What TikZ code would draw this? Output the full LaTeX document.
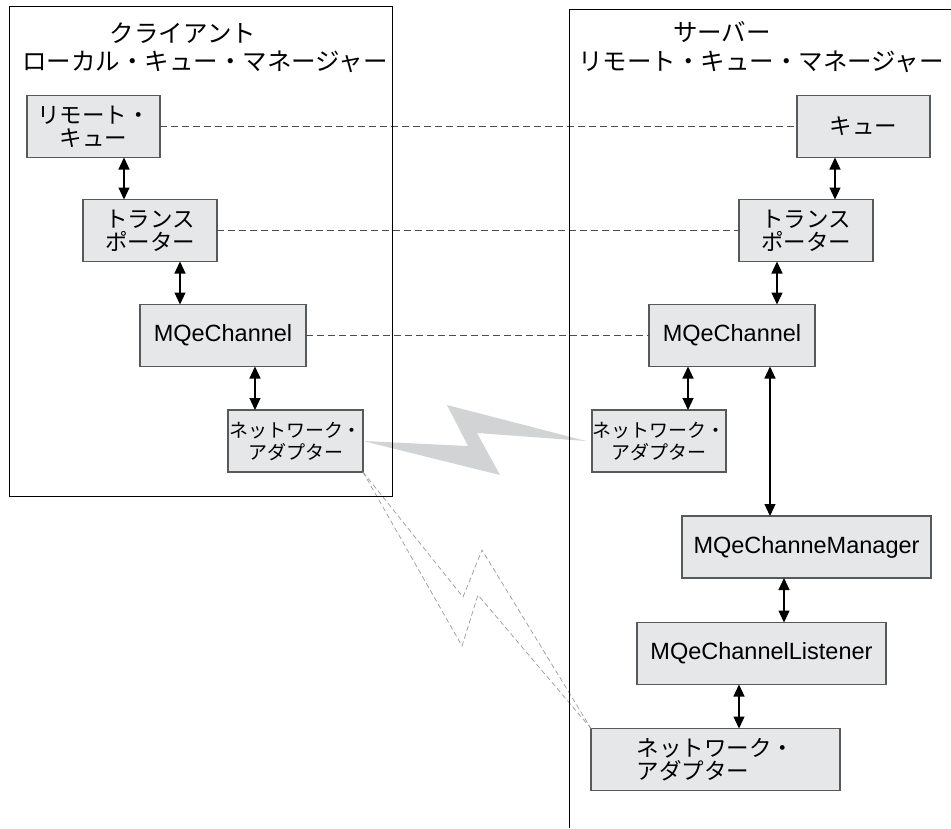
\documentclass[tikz,border=0pt]{standalone}
\usepackage{fontspec}
\setmainfont{Liberation Sans}
\newfontfamily\jp{Noto Sans CJK JP}
\usetikzlibrary{arrows.meta}
\definecolor{boxgray}{HTML}{E6E7E8}
\definecolor{edgegray}{HTML}{58595B}
\definecolor{boltgray}{HTML}{D1D3D4}
\definecolor{dashgray}{HTML}{4D4D4F}
\definecolor{wiregray}{HTML}{9A9A9C}

\begin{document}
\begin{tikzpicture}[x=1pt,y=-1pt,
	box/.style={draw=edgegray,fill=boxgray,line width=1.2pt,inner sep=0,outer sep=0,align=center,minimum height=62pt,font=\fontsize{23.5}{23}\selectfont},
	jbox/.style={box,font=\jp\fontsize{22.5}{23}\selectfont},
	sbox/.style={box,font=\jp\fontsize{19}{22}\selectfont},
	title/.style={inner sep=0,font=\jp\fontsize{24.5}{29}\selectfont},
	link/.style={{Triangle[length=12pt,width=11pt]}-{Triangle[length=12pt,width=11pt]},line width=1.2pt},
	peer/.style={draw=dashgray,line width=0.8pt,dash pattern=on 7pt off 4pt},
	wire/.style={draw=wiregray,line width=0.7pt,dash pattern=on 5pt off 3pt}]
	\useasboundingbox (0,0) rectangle (951,828);
	\node[title] (ct1) at (183,33) {クライアント};
	\node[title] (ct2) at (205,62) {ローカル・キュー・マネージャー};
	\node[title] (st1) at (722,32) {サーバー};
	\node[title] (st2) at (761,62) {リモート・キュー・マネージャー};
	\node[jbox,minimum width=133pt] (c1) at (93.5,126.5) {リモート・\\キュー};
	\node[jbox,minimum width=134pt] (c2) at (150,230.5) {トランス\\ポーター};
	\node[box,minimum width=166pt] (c3) at (223,335.5) {MQeChannel};
	\node[sbox,minimum width=135pt] (c4) at (295.5,441) {ネットワーク・\\アダプター};
	\node[jbox,minimum width=133pt] (s1) at (863.5,126.5) {キュー};
	\node[jbox,minimum width=134pt] (s2) at (806,230.5) {トランス\\ポーター};
	\node[box,minimum width=166pt] (s3) at (732,335.5) {MQeChannel};
	\node[sbox,minimum width=134pt] (s4) at (659,441) {ネットワーク・\\アダプター};
	\node[box,minimum width=249pt] (s5) at (806.5,547) {MQeChanneManager};
	\node[box,minimum width=249pt] (s6) at (761.5,653.5) {MQeChannelListener};
	\node[jbox,align=left,minimum width=249pt] (s7) at (715.5,759.5) {ネットワーク・\\アダプター};
	\fill[boltgray] (c4.east) -- (468,446) -- (447,405) -- ([xshift=-6pt]s4.west) -- (477,433) -- (500,475) -- cycle;
	\draw[wire] (c4.south east) -- (463,597) -- (482,550) -- (s7.north west);
	\draw[wire] (c4.south east) -- (462,646) -- (478,595) -- (s7.north west);
	\draw[peer] (c1.east) -- (s1.west);
	\draw[peer] (c2.east) -- (s2.west);
	\draw[peer] (c3.east) -- (s3.west);
	\draw[link] (124,0 |- c1.south) -- (124,0 |- c2.north);
	\draw[link] (180,0 |- c2.south) -- (180,0 |- c3.north);
	\draw[link] (255,0 |- c3.south) -- (255,0 |- c4.north);
	\draw[link] (835,0 |- s1.south) -- (835,0 |- s2.north);
	\draw[link] (777,0 |- s2.south) -- (777,0 |- s3.north);
	\draw[link] (688,0 |- s3.south) -- (688,0 |- s4.north);
	\draw[link] (770,0 |- s3.south) -- (770,0 |- s5.north);
	\draw[link] (784,0 |- s5.south) -- (784,0 |- s6.north);
	\draw[link] (739,0 |- s6.south) -- (739,0 |- s7.north);
	\draw[line width=0.9pt] (9,6) rectangle (392,496);
	\draw[line width=0.9pt] (569,828) -- (569,9) -- (951,9);
\end{tikzpicture}
\end{document}
